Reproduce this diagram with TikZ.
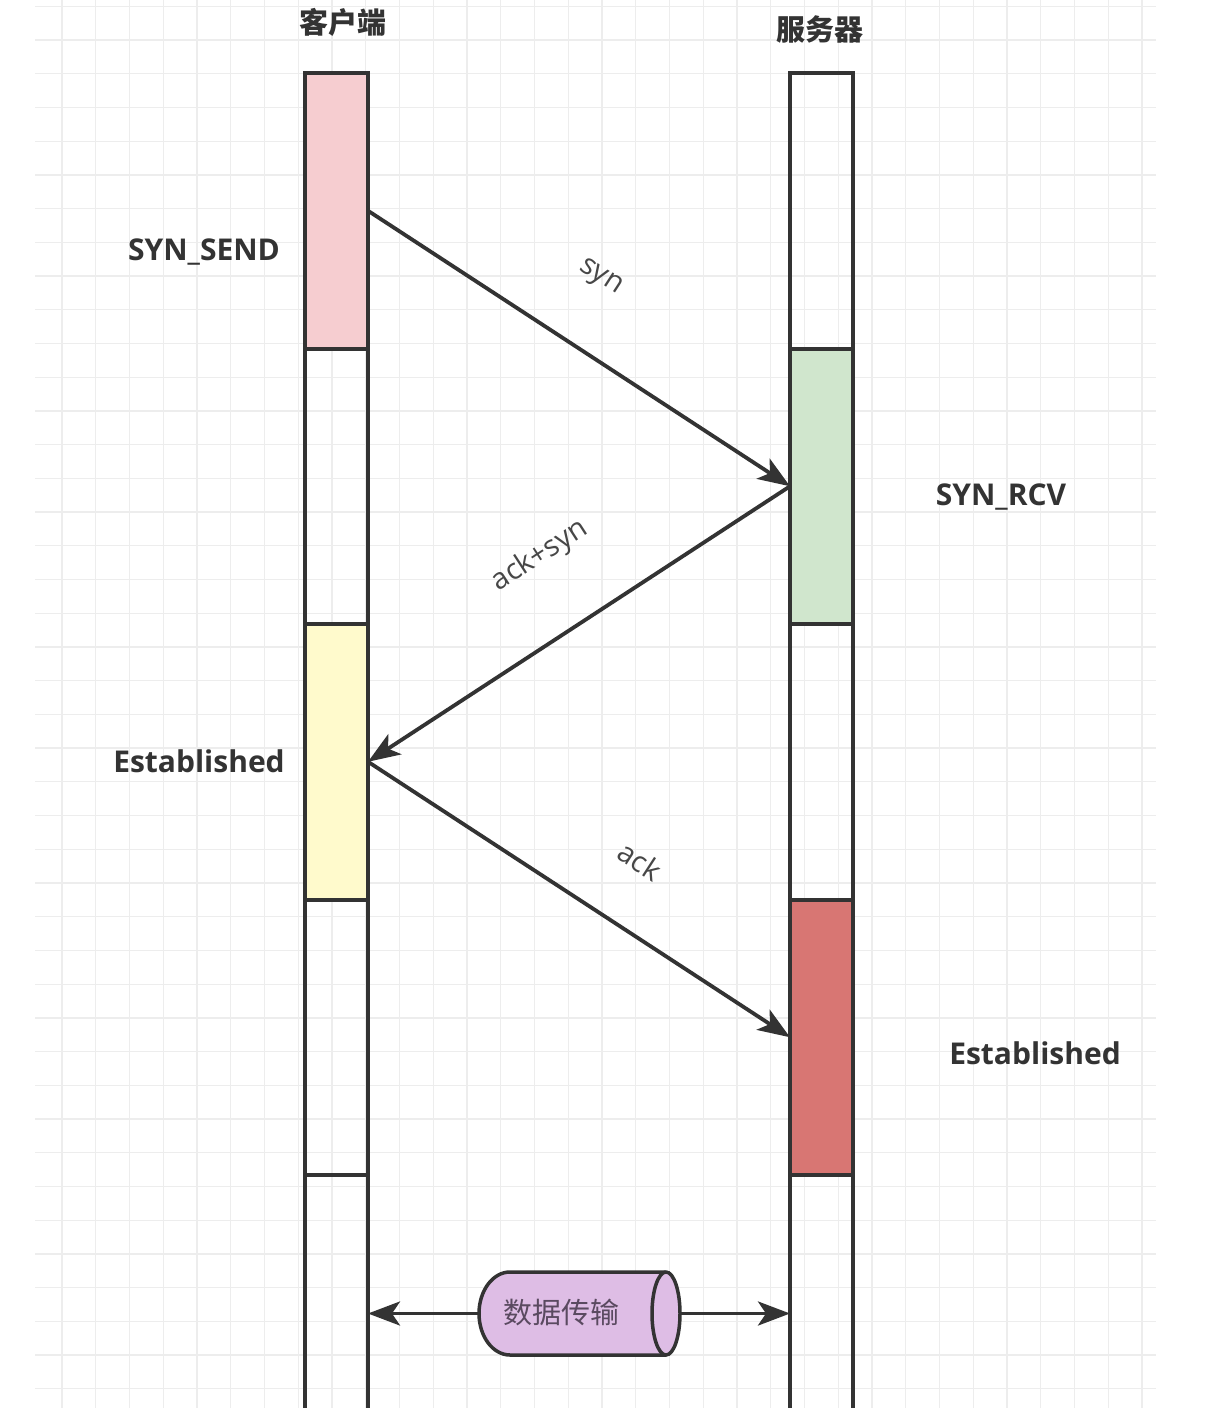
\documentclass[tikz,border=0pt]{standalone}
\usepackage{fontspec}
\setmainfont{Open Sans}
\newfontfamily\cjk{Noto Sans CJK SC}
\usetikzlibrary{arrows.meta}
\definecolor{gridc}{HTML}{EDEDED}
\definecolor{linec}{HTML}{333333}
\definecolor{txtc}{HTML}{333333}
\definecolor{pinkc}{HTML}{F6CDD0}
\definecolor{greenc}{HTML}{D0E6CD}
\definecolor{yellowc}{HTML}{FFFACC}
\definecolor{redc}{HTML}{D87673}
\definecolor{purpc}{HTML}{DEBDE5}
\definecolor{purptxt}{HTML}{5A4A60}
\begin{document}
\begin{tikzpicture}[x=1pt,y=-1pt,
  gridline/.style={draw=gridc, line width=1.3pt},
  seg/.style={draw=linec, line width=4pt, minimum width=63pt, minimum height=275.5pt, inner sep=0pt, outer sep=0pt, anchor=north},
  lastseg/.style={seg, minimum height=300pt},
  msg/.style={draw=linec, line width=3.8pt, -{Stealth[length=32pt,width=24pt,inset=8pt]}},
  statelbl/.style={font=\fontsize{30}{32}\selectfont\bfseries, text=txtc},
  headlbl/.style={font=\cjk\fontsize{29}{31}\selectfont\bfseries, text=txtc},
  msglbl/.style={font=\fontsize{29}{31}\selectfont, text=txtc!90}
]
\useasboundingbox (0,0) rectangle (1208,1408);
\clip (0,0) rectangle (1208,1408);
\fill[white] (0,0) rectangle (1208,1408);
% grid
\foreach \i in {0,...,32} \draw[gridline] ({62+33.75*\i},0) -- ({62+33.75*\i},1408);
\foreach \j in {-1,...,40} \draw[gridline] (35,{40+33.72*\j}) -- (1156,{40+33.72*\j});

% client column
\node[seg, fill=pinkc] (c1) at (336.5,73) {};
\node[seg] (c2) at (336.5,348.5) {};
\node[seg, fill=yellowc] (c3) at (336.5,624) {};
\node[seg] (c4) at (336.5,899.5) {};
\node[lastseg] (c5) at (336.5,1175) {};
% server column
\node[seg] (s1) at (821.5,73) {};
\node[seg, fill=greenc] (s2) at (821.5,348.5) {};
\node[seg] (s3) at (821.5,624) {};
\node[seg, fill=redc] (s4) at (821.5,899.5) {};
\node[lastseg] (s5) at (821.5,1175) {};

% headers
\node[headlbl] (hc) at (343,22) {客户端};
\node[headlbl] (hs) at (820,29) {服务器};

% state labels
\node[statelbl] (l1) at (204,252) {SYN\_SEND};
\node[statelbl] (l2) at (1001,497) {SYN\_RCV};
\node[statelbl] (l3) at (199,761) {Established};
\node[statelbl] (l4) at (1035,1053) {Established};

% messages
\draw[msg] (c1.east) -- (s2.west);
\draw[msg] (s2.west) -- (c3.east);
\draw[msg] (c3.east) -- (s4.west);
\node[msglbl, rotate=-33] (m1) at (600,278) {syn};
\node[msglbl, rotate=33] (m2) at (540,556) {ack+syn};
\node[msglbl, rotate=-33] (m3) at (640,861) {ack};

% data transfer cylinder
\draw[draw=linec, line width=3.5pt, fill=purpc]
  (510,1272) -- (666,1272) arc[start angle=-90, end angle=90, x radius=14, y radius=41.5]
  -- (510,1355) arc[start angle=90, end angle=270, x radius=31, y radius=41.5] -- cycle;
\draw[draw=linec, line width=3.5pt] (666,1272) arc[start angle=270, end angle=90, x radius=14, y radius=41.5];
\node[font=\cjk\fontsize{29}{31}\selectfont, text=purptxt] (data) at (561,1312) {数据传输};
\coordinate (cylL) at (479,1313.5);
\coordinate (cylR) at (680,1313.5);
\draw[msg] (cylL) -- (cylL -| c5.east);
\draw[msg] (cylR) -- (cylR -| s5.west);
\end{tikzpicture}
\end{document}
